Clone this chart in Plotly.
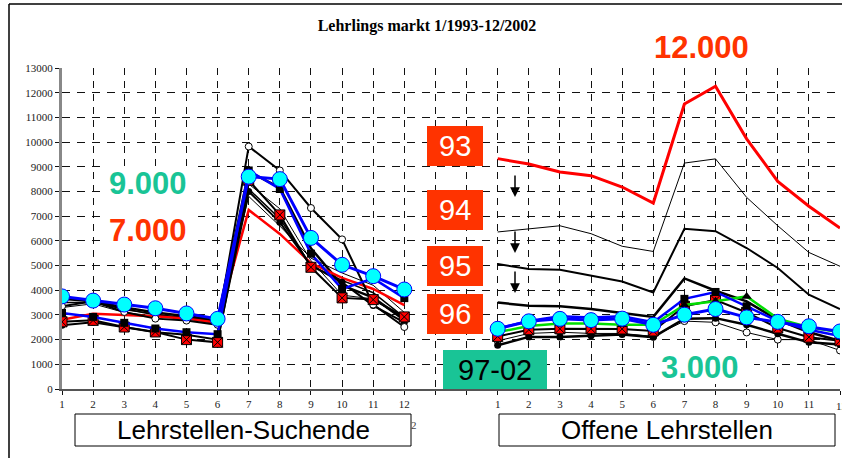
import plotly.graph_objects as go

# ---------------------------------------------------------------------------
# Data: monthly values 1..12, one list per year
# ---------------------------------------------------------------------------
months = list(range(1, 13))
month_labels = [str(m) for m in months]
y_ticks = list(range(0, 13001, 1000))

# Lehrstellen-Suchende (left block)
suchende_1993 = [2800, 3050, 3000, 2950, 2850, 2680, 7250, 6280, 5100, 4500, 4050, 3400]
suchende_1994 = [3300, 3450, 3100, 2950, 2850, 2650, 7800, 6600, 5300, 4700, 4200, 3100]
suchende_1995 = [3500, 3500, 3250, 3000, 2900, 2750, 8100, 6900, 5000, 4400, 3900, 2900]
suchende_1996 = [3650, 3550, 3300, 3100, 2950, 2800, 8800, 8150, 5700, 4200, 3700, 2800]
suchende_1997 = [3080, 2920, 2680, 2450, 2300, 2220, 8850, 8100, 5480, 4050, 4480, 3680]
suchende_1998 = [2720, 2780, 2510, 2310, 2000, 1890, 8450, 7050, 4930, 3690, 3620, 2920]
suchende_1999 = [3700, 3550, 3200, 3050, 2850, 2700, 8300, 7300, 5200, 3800, 3650, 2800]
suchende_2000 = [3750, 3580, 3420, 3270, 3060, 2840, 8600, 8500, 6120, 5030, 4570, 4030]
suchende_2001 = [2580, 2700, 2500, 2300, 2200, 2000, 8000, 6750, 5000, 4320, 3380, 2700]
suchende_2002 = [3350, 3550, 3120, 2850, 2770, 2600, 9820, 8850, 7330, 6060, 3420, 2510]

# Offene Lehrstellen (right block)
offene_1993 = [9330, 9110, 8790, 8640, 8180, 7530, 11540, 12260, 10130, 8410, 7400, 6520]
offene_1994 = [6360, 6480, 6610, 6290, 5780, 5570, 9150, 9320, 7760, 6610, 5530, 4970]
offene_1995 = [5060, 4860, 4830, 4590, 4350, 3910, 6490, 6390, 5710, 4900, 3820, 3240]
offene_1996 = [3500, 3370, 3350, 3240, 3080, 2920, 4480, 3980, 3550, 2800, 2300, 1950]
offene_1997 = [2450, 2750, 2950, 2900, 2950, 2700, 3650, 3930, 3350, 2750, 2400, 2150]
offene_1998 = [2300, 2550, 2650, 2650, 2600, 2600, 3400, 3550, 3750, 2850, 2500, 2300]
offene_1999 = [2130, 2400, 2440, 2440, 2430, 2350, 3350, 3600, 3100, 2470, 2100, 1950]
offene_2000 = [2440, 2740, 2840, 2790, 2850, 2600, 3010, 3240, 2900, 2720, 2540, 2330]
offene_2001 = [1770, 2110, 2110, 2160, 2210, 2100, 2850, 2870, 2600, 2240, 1890, 1800]
offene_2002 = [1950, 2250, 2300, 2250, 2250, 2130, 2750, 2700, 2290, 2000, 2000, 1560]

# ---------------------------------------------------------------------------
# Layout geometry of the plot area (pixels)
# ---------------------------------------------------------------------------
W, H = 842, 458
ML, MR, MT, MB = 62, 2, 68, 69
PW, PH = W - ML - MR, H - MT - MB

def px_x(px):
    return (px - ML) / PW

def px_y(py):
    return (H - MB - py) / PH

# left block sits on slots 0..11, right block on slots 14..25
left_x = [m - 1 for m in months]
right_x = [m + 13 for m in months]

RED = "#FF0000"
ORANGE = "#FF3300"
TEAL = "#19C496"
BLUE = "#0000FF"

fig = go.Figure()

def add_line(x, y, name, color, width, marker=None):
    kw = dict(x=x, y=y, name=name, mode="lines",
              line=dict(color=color, width=width), hoverinfo="x+y+name")
    if marker is not None:
        kw["mode"] = "lines+markers"
        kw["marker"] = marker
    fig.add_trace(go.Scatter(**kw))

sq_black = dict(symbol="square", size=8, color="black")
sq_red_x = dict(symbol="square-x", size=10, color=RED, line=dict(color="black", width=1))
circ_black = dict(symbol="circle", size=7, color="black")
circ_white = dict(symbol="circle", size=7, color="white", line=dict(color="black", width=1))
circ_cyan = dict(symbol="circle", size=15, color="#00FFFF", line=dict(color=BLUE, width=1))
tri_black = dict(symbol="triangle-up", size=9, color="black")

# left block
add_line(left_x, suchende_1994, "1994", "black", 1)
add_line(left_x, suchende_1995, "1995", "black", 1.5)
add_line(left_x, suchende_1999, "1999", "black", 1)
add_line(left_x, suchende_1996, "1996", "black", 2.5)
add_line(left_x, suchende_1993, "1993", RED, 2.5)
add_line(left_x, suchende_2001, "2001", "black", 2, circ_black)
add_line(left_x, suchende_2002, "2002", "black", 2, circ_white)
add_line(left_x, suchende_1998, "1998", "black", 2, sq_red_x)
add_line(left_x, suchende_1997, "1997", BLUE, 2.5, sq_black)
add_line(left_x, suchende_2000, "2000", BLUE, 3, circ_cyan)

# right block
add_line(right_x, offene_1993, "1993", RED, 3)
add_line(right_x, offene_1994, "1994", "black", 1)
add_line(right_x, offene_1995, "1995", "black", 2)
add_line(right_x, offene_1996, "1996", "black", 2.5)
add_line(right_x, offene_2002, "2002", "black", 1, circ_white)
add_line(right_x, offene_2001, "2001", "black", 2.5, circ_black)
add_line(right_x, offene_1999, "1999", "black", 2, sq_red_x)
add_line(right_x, offene_1998, "1998", "#00DD00", 2.5, tri_black)
add_line(right_x, offene_1997, "1997", BLUE, 2.5, sq_black)
add_line(right_x, offene_2000, "2000", BLUE, 3, circ_cyan)

tick_vals = list(range(26))
tick_text = month_labels + ["", ""] + month_labels

axis_font = dict(family="Liberation Serif", size=11, color="#222")
common = dict(showgrid=True, gridcolor="#111", gridwidth=1,
              zeroline=False, ticks="outside", ticklen=4, tickcolor="#111")

fig.update_layout(
    width=W, height=H,
    margin=dict(l=ML, r=MR, t=MT, b=MB),
    paper_bgcolor="white", plot_bgcolor="white",
    showlegend=False,
    title=dict(text="<b>Lehrlings markt 1/1993-12/2002</b>",
               font=dict(family="Liberation Serif", size=16, color="black"),
               x=(427 - 0) / W, xanchor="center", y=1 - 25 / H, yanchor="middle"),
    xaxis=dict(range=[0, 25], tickmode="array", tickvals=tick_vals, ticktext=tick_text,
               showline=True, linecolor="#555", linewidth=2, tickfont=axis_font,
               griddash="7px,6px", **common),
    yaxis=dict(range=[0, 13000], tickmode="array", tickvals=y_ticks,
               ticktext=[str(v) for v in y_ticks],
               showline=True, linecolor="#888", linewidth=3, tickfont=axis_font,
               griddash="8px,7px", **common),
)

shapes = []
# outer frame (top and left edges)
shapes.append(dict(type="line", xref="paper", yref="paper", x0=px_x(9), x1=px_x(W + 2),
                   y0=px_y(4), y1=px_y(4), line=dict(color="black", width=1.5)))
shapes.append(dict(type="line", xref="paper", yref="paper", x0=px_x(9), x1=px_x(9),
                   y0=px_y(4), y1=px_y(H + 2), line=dict(color="black", width=1.5)))

# white backdrop behind the large numbers
for (x0, y0, x1, y1) in [(100, 166, 198, 244), (650, 350, 754, 384)]:
    shapes.append(dict(type="rect", xref="paper", yref="paper", layer="above",
                       x0=px_x(x0), x1=px_x(x1), y0=px_y(y1), y1=px_y(y0),
                       line=dict(width=0), fillcolor="white"))

# year boxes
year_boxes = [("93", 126, 166), ("94", 190, 230), ("95", 246, 286), ("96", 294, 334)]
for label, y0, y1 in year_boxes:
    shapes.append(dict(type="rect", xref="paper", yref="paper", layer="above",
                       x0=px_x(427), x1=px_x(483), y0=px_y(y1), y1=px_y(y0),
                       line=dict(width=0), fillcolor=ORANGE))
shapes.append(dict(type="rect", xref="paper", yref="paper", layer="above",
                   x0=px_x(443), x1=px_x(547), y0=px_y(389), y1=px_y(350),
                   line=dict(width=0), fillcolor=TEAL))

# block captions
for x0, x1 in [(75, 411), (499, 835)]:
    shapes.append(dict(type="rect", xref="paper", yref="paper", layer="above",
                       x0=px_x(x0), x1=px_x(x1), y0=px_y(446), y1=px_y(414),
                       line=dict(color="black", width=1), fillcolor="white"))
fig.update_layout(shapes=shapes)

ann = []
def text(px, py, s, size, color, bold=False, family="Liberation Sans"):
    ann.append(dict(xref="paper", yref="paper", x=px_x(px), y=px_y(py), text=s,
                    showarrow=False, xanchor="center", yanchor="middle",
                    font=dict(family=family, size=size, color=color,
                              weight="bold" if bold else "normal")))

text(148, 183, "9.000", 31, TEAL, True)
text(148, 231, "7.000", 31, ORANGE, True)
text(701, 47, "12.000", 31, ORANGE, True)
text(700, 367, "3.000", 31, TEAL, True)
for label, y0, y1 in year_boxes:
    text(455, (y0 + y1) / 2, label, 29, "white")
text(495, 370, "97-02", 29, "black")
text(243, 430, "Lehrstellen-Suchende", 26, "black")
text(667, 430, "Offene Lehrstellen", 26, "black")
text(414, 425, "2", 11, "#444", family="Liberation Serif")
# last month label of the right block, running off the edge
text(842, 406, month_labels[-1], 11, "#222", family="Liberation Serif")

# downward arrows between the year boxes
for tip in [197, 253, 293]:
    ann.append(dict(xref="paper", yref="paper", x=px_x(515), y=px_y(tip),
                    axref="pixel", ayref="pixel", ax=0, ay=-23, text="",
                    showarrow=True, arrowhead=2, arrowsize=1.3, arrowwidth=1.5,
                    arrowcolor="black"))
fig.update_layout(annotations=ann)

fig.write_html("out.html")
